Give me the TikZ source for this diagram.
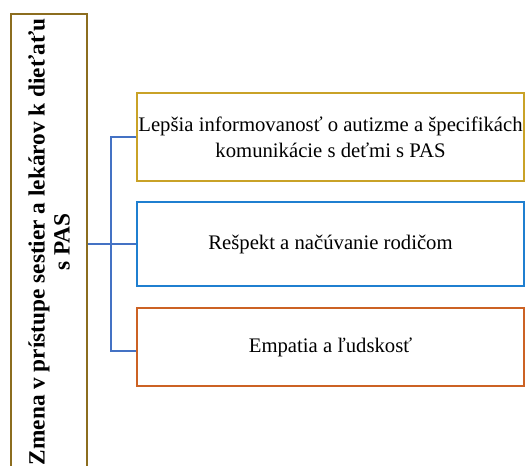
\documentclass[tikz,border=0pt]{standalone}
\usepackage{fontspec}
\setmainfont{Liberation Serif}
\usetikzlibrary{positioning}
\definecolor{olivebrd}{HTML}{8C6D1F}
\definecolor{goldbrd}{HTML}{C9A227}
\definecolor{bluebrd}{HTML}{1F7FD0}
\definecolor{orangebrd}{HTML}{CC6224}
\definecolor{connblue}{HTML}{4472C4}
\tikzstyle{topic}=[rectangle,draw=olivebrd,line width=1.5pt,rotate=90,align=center,minimum width=456pt,minimum height=76pt,inner sep=0pt,font=\fontsize{23.3}{25}\selectfont\bfseries]
\tikzstyle{item}=[rectangle,line width=1.5pt,align=center,minimum width=387pt,inner sep=0pt,font=\fontsize{20.7}{26}\selectfont]
\tikzstyle{conn}=[draw=connblue,line width=1.7pt]

\begin{document}
\begin{tikzpicture}[x=1pt,y=-1pt]
\useasboundingbox (0,0) rectangle (525,466);
\clip (0,0) rectangle (525,466);
\node[topic] (Z) at (49,242) {Zmena v prístupe sestier a lekárov k dieťaťu\\s PAS};
\node[item,draw=goldbrd,minimum height=88pt] (B1) at (330.5,137) {Lepšia informovanosť o autizme a špecifikách\\komunikácie s deťmi s PAS};
\node[item,draw=bluebrd,minimum height=84pt] (B2) at (330.5,244) {Rešpekt a načúvanie rodičom};
\node[item,draw=orangebrd,minimum height=78pt] (B3) at (330.5,347) {Empatia a ľudskosť};
\draw[conn] (Z.south |- B2.west) -- (B2.west);
\draw[conn] (B1.west) -- ++(-25,0) |- ([yshift=-4pt]B3.west);
\end{tikzpicture}
\end{document}
